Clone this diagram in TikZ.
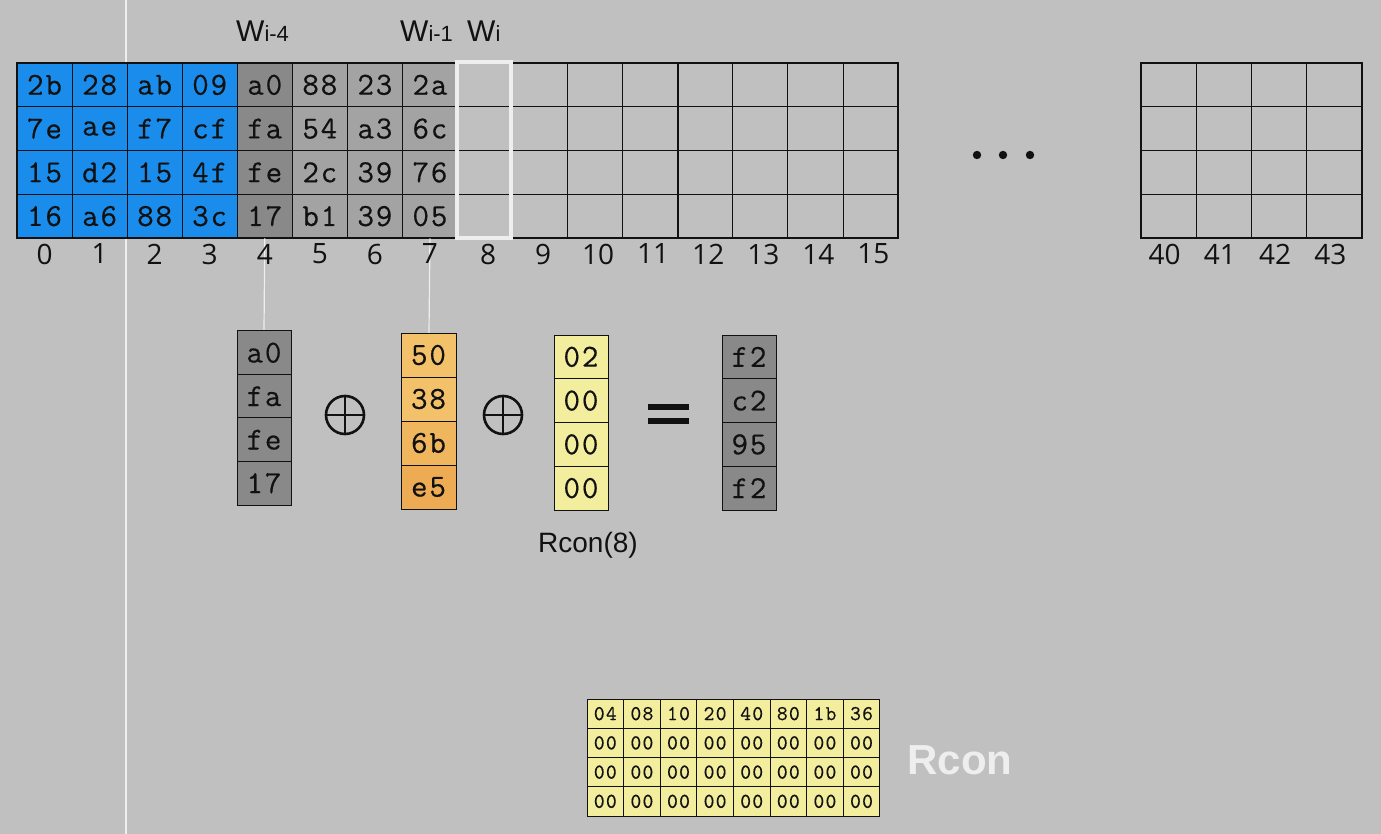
\documentclass[tikz,border=0pt]{standalone}
\usepackage{fontspec}
\setmainfont{Liberation Sans}
\newfontfamily\idxf{Open Sans}
\newfontfamily\cellf[LetterSpace=6,FakeBold=0.4]{Latin Modern Mono}
\definecolor{bg}{HTML}{C0C0C0}
\definecolor{blu}{HTML}{1A8DEC}
\definecolor{gdark}{HTML}{898989}
\definecolor{glight}{HTML}{A3A3A3}
\definecolor{orgA}{HTML}{F3C169}
\definecolor{orgB}{HTML}{F0B65D}
\definecolor{orgC}{HTML}{EDAC53}
\definecolor{yel}{HTML}{F3EE9D}
\definecolor{wline}{HTML}{EEEEEE}
\definecolor{ink}{HTML}{111111}
\begin{document}
\begin{tikzpicture}[x=1pt,y=-1pt,
  cell/.style={rectangle,draw=ink,line width=0.8pt,inner sep=0pt,
    minimum width=55.06pt,minimum height=43.75pt,text=ink,
    font=\cellf\fontsize{32}{32}\selectfont},
  midcell/.style={cell,minimum width=54pt,minimum height=43.75pt},
  rcell/.style={rectangle,draw=ink,line width=0.8pt,inner sep=0pt,fill=yel,
    minimum width=36.6pt,minimum height=29.25pt,text=ink,
    font=\cellf\fontsize{21}{21}\selectfont},
  idx/.style={inner sep=0pt,text=ink,font=\idxf\fontsize{28}{28}\selectfont},
  wlab/.style={inner sep=0pt,anchor=base west,text=ink},
  link/.style={draw=wline,line width=1.2pt},
  xorsym/.style={circle,draw=ink,line width=2.6pt,minimum size=38pt,inner sep=0pt}
]
\fill[bg] (0,0) rectangle (1381,834);
\useasboundingbox (0,0) rectangle (1381,834);
\draw[wline,line width=1.5pt] (126,0) -- (126,834);

\def\cw{55.06}\def\rh{43.75}
% filled columns of the key schedule
\foreach \c/\fc/\vals in {0/blu/{2b,7e,15,16},1/blu/{28,ae,d2,a6},2/blu/{ab,f7,15,88},3/blu/{09,cf,4f,3c},
  4/gdark/{a0,fa,fe,17},5/glight/{88,54,2c,b1},6/glight/{23,a3,39,39},7/glight/{2a,6c,76,05}}{
  \foreach \v [count=\r from 0] in \vals {
    \node[cell,fill=\fc] (m\c-\r) at ({17+\cw*(\c+0.5)},{63+\rh*(\r+0.5)}) {\v};
  }
}
% empty columns
\foreach \c in {8,...,15}{
  \foreach \r in {0,...,3}{
    \node[cell] (m\c-\r) at ({17+\cw*(\c+0.5)},{63+\rh*(\r+0.5)}) {};
  }
}
\draw[ink,line width=1.8pt] (17,63) rectangle (898,238);
\draw[ink,line width=1.8pt] (m11-0.north east) -- (m11-3.south east);
\draw[ink,line width=1.4pt] (m3-0.north east) -- (m3-3.south east);
% right grid
\foreach \c in {0,...,3}{
  \foreach \r in {0,...,3}{
    \node[cell,minimum width=55.25pt] (e\c-\r) at ({1141+55.25*(\c+0.5)},{63+\rh*(\r+0.5)}) {};
  }
}
\draw[ink,line width=1.8pt] (1141,63) rectangle (1362,238);
% highlighted W_i
\node[draw=wline,line width=4pt,minimum width=54pt,minimum height=176pt,inner sep=0pt] (wi) at (484,150) {};

% links to the operand columns
\draw[link] (m4-3.south) -- (264,331);
\draw[link] (m7-3.south) -- (429,333);

% index labels
\foreach \c in {0,...,15}{
  \node[idx] (i\c) at ({17+\cw*(\c+0.5)+(\c>7?3:0)},254) {\c};
}
\foreach \c [evaluate=\c as \n using int(40+\c)] in {0,...,3}{
  \node[idx] (j\c) at ({1141+55.25*(\c+0.5)-4},254) {\n};
}

% W labels
\node[wlab] (w4) at (236,42) {\fontsize{30}{30}\selectfont W\fontsize{22}{22}\selectfont i-4};
\node[wlab] (w1) at (400,42) {\fontsize{30}{30}\selectfont W\fontsize{22}{22}\selectfont i-1};
\node[wlab] (w0) at (467,42) {\fontsize{30}{30}\selectfont W\fontsize{22}{22}\selectfont i};

% dots
\foreach \x in {977,1003,1030}{\fill[ink] (\x,155) circle (4.2pt);}

% operand columns
\foreach \v [count=\r from 0] in {a0,fa,fe,17}{
  \node[midcell,fill=gdark] (a\r) at (264,{331+43.5*(\r+0.5)}) {\v};
}
\foreach \v/\fc [count=\r from 0] in {50/orgA,38/orgA,6b/orgB,e5/orgC}{
  \node[midcell,fill=\fc,minimum width=55pt,minimum height=44pt] (b\r) at (428.5,{333+44*(\r+0.5)}) {\v};
}
\foreach \v [count=\r from 0] in {02,00,00,00}{
  \node[midcell,fill=yel] (c\r) at (581,{335+43.75*(\r+0.5)}) {\v};
}
\foreach \v [count=\r from 0] in {f2,c2,95,f2}{
  \node[midcell,fill=gdark] (d\r) at (749,{335+43.75*(\r+0.5)}) {\v};
}

% operators
\node[xorsym] (x1) at (345,415) {};
\draw[ink,line width=2.6pt] (x1.north) -- (x1.south) (x1.west) -- (x1.east);
\node[xorsym] (x2) at (503,415) {};
\draw[ink,line width=2.6pt] (x2.north) -- (x2.south) (x2.west) -- (x2.east);
\fill[ink] (648,404) rectangle (689,410);
\fill[ink] (648,418) rectangle (689,424);

\node[inner sep=0pt,text=ink,font=\fontsize{28}{28}\selectfont] (rc8) at (588,545) {Rcon(8)};

% Rcon table
\foreach \v [count=\c from 0] in {04,08,10,20,40,80,1b,36}{
  \node[rcell] (r\c-0) at ({587+36.6*(\c+0.5)},{699+29.25*0.5}) {\v};
}
\foreach \c in {0,...,7}{
  \foreach \r in {1,2,3}{
    \node[rcell] (r\c-\r) at ({587+36.6*(\c+0.5)},{699+29.25*(\r+0.5)}) {00};
  }
}
\node[inner sep=0pt,text=wline,font=\bfseries\fontsize{42}{42}\selectfont] (rcl) at (960,760) {Rcon};
\end{tikzpicture}
\end{document}
